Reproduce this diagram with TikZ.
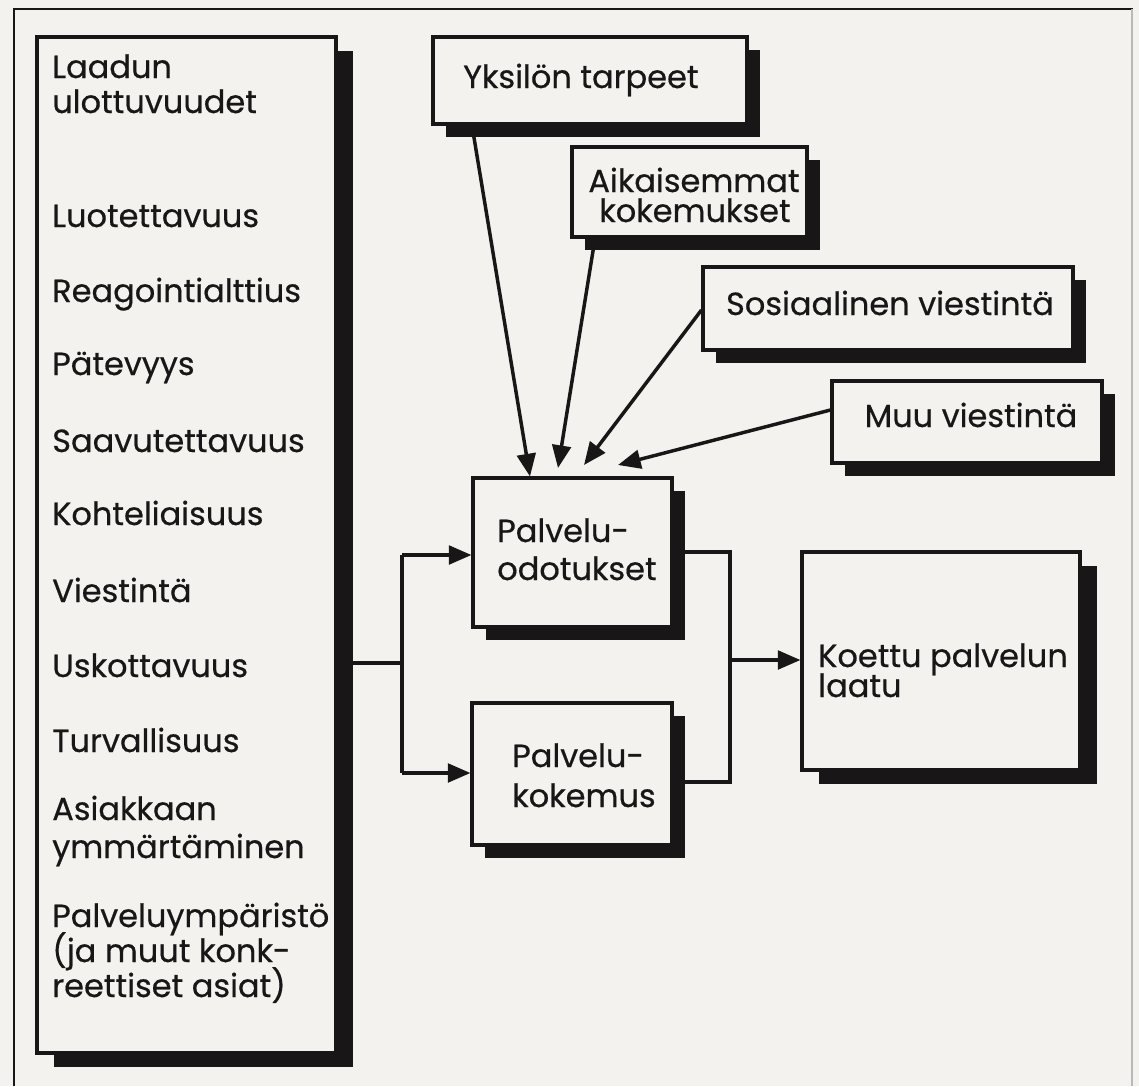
\documentclass[tikz,border=0pt]{standalone}
\usepackage{fontspec}
\setmainfont{Poppins}
\newfontfamily\labelfont{Poppins}[FakeBold=0.5]
\usetikzlibrary{arrows.meta,shadows,fit}

\definecolor{paper}{RGB}{243,242,239}
\definecolor{ink}{RGB}{24,22,22}

\tikzset{
  cardbase/.style={draw=ink, line width=2.3pt, fill=paper, inner sep=0pt},
  card/.style={cardbase,
    drop shadow={shadow xshift=9.5pt, shadow yshift=-9.5pt, opacity=1, fill=ink}},
  bigcard/.style={cardbase,
    drop shadow={shadow xshift=13pt, shadow yshift=-10.5pt, opacity=1, fill=ink}},
  lab/.style={anchor=base west, inner sep=0pt, text=ink,
    font=\labelfont\fontsize{24}{28}\selectfont},
  clab/.style={lab, anchor=base},
  wire/.style={draw=ink, line width=2.6pt},
  arr/.style={wire, -{Triangle[length=17pt,width=14pt]}},
}

\begin{document}
\begin{tikzpicture}[x=0.75pt, y=-0.75pt]
  \useasboundingbox (0,0) rectangle (1139,1086);
  \fill[paper] (0,0) rectangle (1139,1086);

  % page frame
  \draw[ink, line width=0.8pt] (14,1086) -- (14,9) -- (1133,9);
  \draw[gray!55, line width=1.5pt] (1132,9) -- (1132,1086);

  % boxes
  \node[bigcard, fit={(37,37) (336,1053)}] (L) {};
  \node[card, fit={(433,37) (747,124)}] (Y) {};
  \node[card, fit={(572,147) (807,237)}] (A) {};
  \node[card, fit={(703,267) (1073,350)}] (S) {};
  \node[card, fit={(832,381) (1102,463)}] (M) {};
  \node[card, fit={(473,478) (672,627)}] (O) {};
  \node[card, fit={(472,703) (672,845)}] (K) {};
  \node[bigcard, fit={(802,552) (1080,770)}] (Q) {};

  % dimensions of quality
  \node[lab] (l1a) at (52,78)  {Laadun};
  \node[lab] (l1b) at (52,113) {ulottuvuudet};
  \node[lab] (l2)  at (52,227) {Luotettavuus};
  \node[lab] (l3)  at (52,302) {Reagointialttius};
  \node[lab] (l4)  at (52,375) {Pätevyys};
  \node[lab] (l5)  at (52,452) {Saavutettavuus};
  \node[lab] (l6)  at (52,525) {Kohteliaisuus};
  \node[lab] (l7)  at (52,602) {Viestintä};
  \node[lab] (l8)  at (52,677) {Uskottavuus};
  \node[lab] (l9)  at (52,752) {Turvallisuus};
  \node[lab] (l10a) at (52,820) {Asiakkaan};
  \node[lab] (l10b) at (52,858) {ymmärtäminen};
  \node[lab] (l11a) at (52,927) {Palveluympäristö};
  \node[lab] (l11b) at (52,962) {(ja muut konk-};
  \node[lab] (l11c) at (52,997) {reettiset asiat)};

  % influences on expectations
  \node[lab]  (ty)  at (463,88)  {Yksilön tarpeet};
  \node[clab] (ta1) at (694,192) {Aikaisemmat};
  \node[clab] (ta2) at (695,222) {kokemukset};
  \node[clab] (ts)  at (890,315) {Sosiaalinen viestintä};
  \node[clab] (tm)  at (971,427) {Muu viestintä};

  % expectation, experience, perceived quality
  \node[lab] (to1) at (497,542) {Palvelu-};
  \node[lab] (to2) at (497,580) {odotukset};
  \node[lab] (tk1) at (512,767) {Palvelu-};
  \node[lab] (tk2) at (512,807) {kokemus};
  \node[lab] (tq1) at (818,667) {Koettu palvelun};
  \node[lab] (tq2) at (818,697) {laatu};

  % junctions
  \coordinate (jl)  at (402,663);
  \coordinate (jlt) at (402,555);
  \coordinate (jlb) at (402,773);
  \coordinate (jr)  at (730,660);
  \coordinate (jrt) at (730,552);
  \coordinate (jrb) at (730,782);
  \coordinate (in2) at (558,468);
  \coordinate (in3) at (584,465);
  \coordinate (in4) at (618,465);

  % dimensions feed both expectation and experience
  \draw[wire] (L.east |- jl) -- (jl);
  \draw[wire] (jlt) -- (jlb);
  \draw[arr] (jlt) -- (O.west |- jlt);
  \draw[arr] (jlb) -- (K.west |- jlb);

  % expectation and experience give perceived quality
  \draw[wire] (O.east |- jrt) -- (jrt) -- (jrb) -- (K.east |- jrb);
  \draw[arr] (jr) -- (Q.west |- jr);

  % influences on expectations
  \draw[arr] (Y.south -| 472,0) -- (O.north -| 530,0);
  \draw[arr] (A.south -| 595,0) -- (in2);
  \draw[arr] (S.west |- 0,310) -- (in3);
  \draw[arr] (M.west |- 0,410) -- (in4);
\end{tikzpicture}
\end{document}
